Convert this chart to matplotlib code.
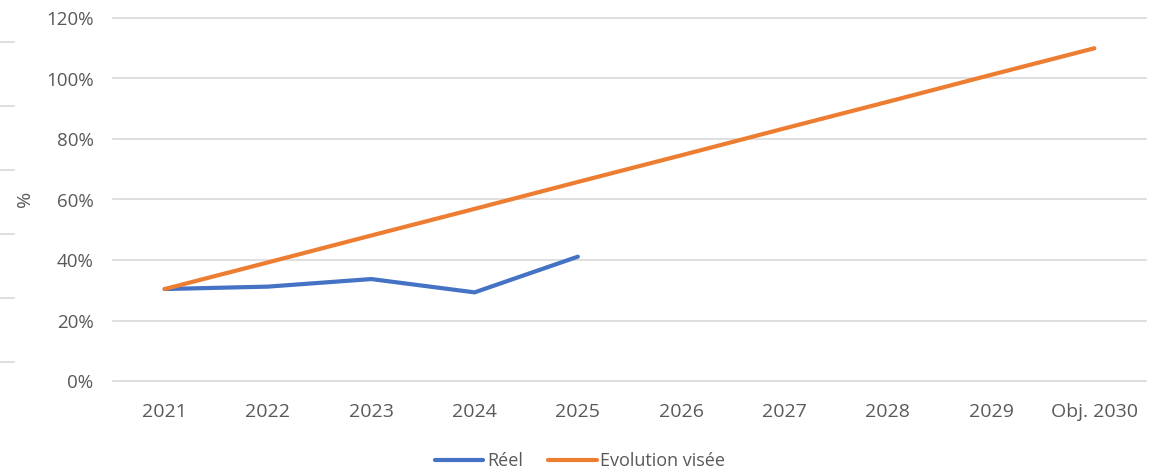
import matplotlib.pyplot as plt
from matplotlib.lines import Line2D
from matplotlib.ticker import FuncFormatter

# categories and series
years = ["2021", "2022", "2023", "2024", "2025", "2026", "2027", "2028", "2029", "Obj. 2030"]
reel = [30.4, 31.2, 33.7, 29.3, 41.1]
visee = [30.4, 39.2, 48.1, 56.9, 65.8, 74.6, 83.5, 92.3, 101.2, 110.0]
yticks = [0, 20, 40, 60, 80, 100, 120]

plt.rcParams['font.family'] = ['Open Sans', 'DejaVu Sans']
txt = "#595959"
grid = "#d9d9d9"
fs = 14

fig = plt.figure(figsize=(11.56, 4.73), dpi=100)
ax = fig.add_axes([113/1156, 1 - 381/473, (1146-113)/1156, (381-18)/473])

x = list(range(len(years)))
ax.plot(x[:len(reel)], reel, color="#4472C4", lw=3, solid_capstyle="round", label="Réel", zorder=3)
ax.plot(x, visee, color="#ED7D31", lw=3, solid_capstyle="round", label="Evolution visée", zorder=3)

ax.set_xlim(-0.5, len(years) - 0.5)
ax.set_ylim(0, 120)
ax.set_yticks(yticks)
ax.yaxis.set_major_formatter(FuncFormatter(lambda v, p: f"{int(v)}%"))
ax.set_xticks(x)
ax.set_xticklabels(years)
ax.grid(axis="y", color=grid, lw=1.2)
for gl in ax.get_ygridlines():
    gl.set_clip_on(False)
ax.set_axisbelow(True)
for s in ax.spines.values():
    s.set_visible(False)
ax.tick_params(length=0, labelsize=fs, colors=txt)
ax.tick_params(axis="y", pad=14, labelsize=13.5)
ax.tick_params(axis="x", pad=16)

fig.text(25/1156, 1 - 199/473, "%", rotation=90, ha="center", va="center", fontsize=fs, color=txt)

# stray gridline stubs at the left edge
for yy in [42, 106, 170, 234, 298, 362]:
    fig.add_artist(Line2D([0, 14/1156], [1 - yy/473, 1 - yy/473], color=grid, lw=1.2))

fig.legend(loc="center", bbox_to_anchor=(580/1156, 1 - 461/473), ncol=2, frameon=False,
           fontsize=13, labelcolor=txt, handlelength=2.7, handletextpad=0.2, columnspacing=1.4)

fig.savefig("out.png", dpi=100)
